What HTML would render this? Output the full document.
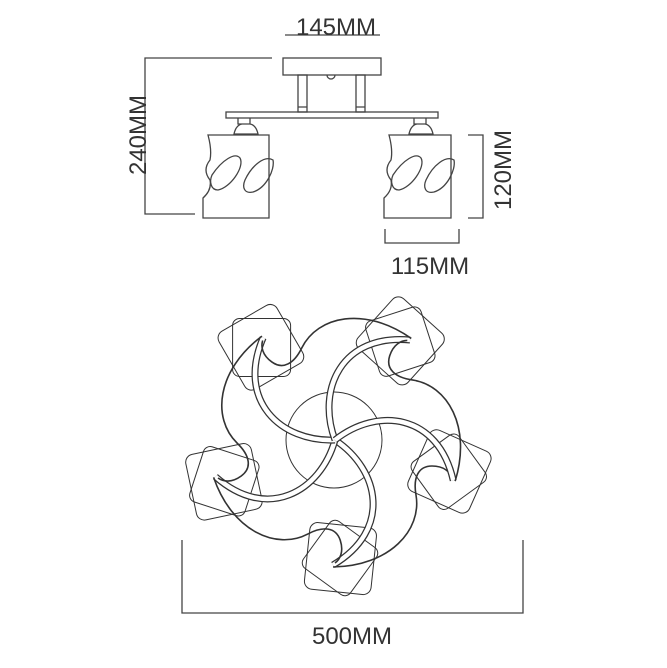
<!DOCTYPE html>
<html><head><style>body{margin:0;background:#fff}svg{display:block}</style></head><body>
<svg width="667" height="668" viewBox="0 0 667 668" xmlns="http://www.w3.org/2000/svg" font-family="Liberation Sans, sans-serif">
<g fill="none" stroke="#444" stroke-width="1.3">
<path d="M285 35H380"/>
<path d="M272 58H145V214H195"/>
<path d="M468 135H483V218H468"/>
<path d="M385 229V243H459V229"/>
<path d="M182 540V613H523V540"/>
<rect x="283" y="58" width="98" height="17"/>
<rect x="298" y="75" width="9" height="37"/><rect x="356" y="75" width="9" height="37"/>
<path d="M298 107H307M356 107H365"/>
<path d="M327 75a4 4 0 0 0 8 0"/>
<rect x="226" y="112" width="212" height="6"/>
<path d="M238 118v6h12v-6M234 134q2-9 8-10h8q6 1 8 10z"/>
<path d="M414 118v6h12v-6M409 134q2-9 8-10h8q6 1 8 10z"/>
<path d="M208 135H269V218H203V198Q212 190 210 180Q202 170 210 160Q212 150 208 135Z"/>
<path d="M212 175C222 160 235 152 240 158C245 167 230 188 218 190C211 190 209 182 212 175Z"/>
<path d="M245 180C252 165 265 155 273 160C275 170 266 188 253 192C244 194 242 187 245 180Z"/>
<path d="M389 135H451V218H384V198Q393 190 391 180Q383 170 391 160Q393 150 389 135Z"/>
<path d="M393 175C403 160 416 152 421 158C426 167 411 188 399 190C392 190 390 182 393 175Z"/>
<path d="M426 180C433 165 446 155 454 160C456 170 447 188 434 192C425 194 423 187 426 180Z"/>
</g>
<g fill="#333" font-size="24">
<text x="336" y="35" text-anchor="middle">145MM</text>
<text x="430" y="274" text-anchor="middle">115MM</text>
<text x="352" y="644" text-anchor="middle">500MM</text>
<text transform="translate(146 135) rotate(-90)" text-anchor="middle">240MM</text>
<text transform="translate(511 170) rotate(-90)" text-anchor="middle">120MM</text>
</g>
<g fill="none" stroke="#333">
<circle cx="334" cy="440" r="48" stroke-width="1"/>
<g id="arm">
<rect x="307" y="525" width="67" height="67" rx="8" transform="rotate(6 340 558)" stroke-width="1"/>
<rect x="311" y="529" width="58" height="58" rx="7" transform="rotate(36 340 558)" stroke-width="1"/>
<path d="M335 440C380 470 392 530 333 565" stroke-width="7" stroke="#333"/>
<path d="M335 440C380 470 392 530 333 565" stroke-width="4.5" stroke="#fff"/>
<path d="M333 567C390 566 422 530 416 495C413 478 418 466 432 466C444 466 450 472 452 478" stroke-width="1.6"/>
</g>
<use href="#arm" transform="rotate(72 335 440)"/>
<use href="#arm" transform="rotate(144 335 440)"/>
<use href="#arm" transform="rotate(216 335 440)"/>
<use href="#arm" transform="rotate(288 335 440)"/>
</g>
</svg>
</body></html>
